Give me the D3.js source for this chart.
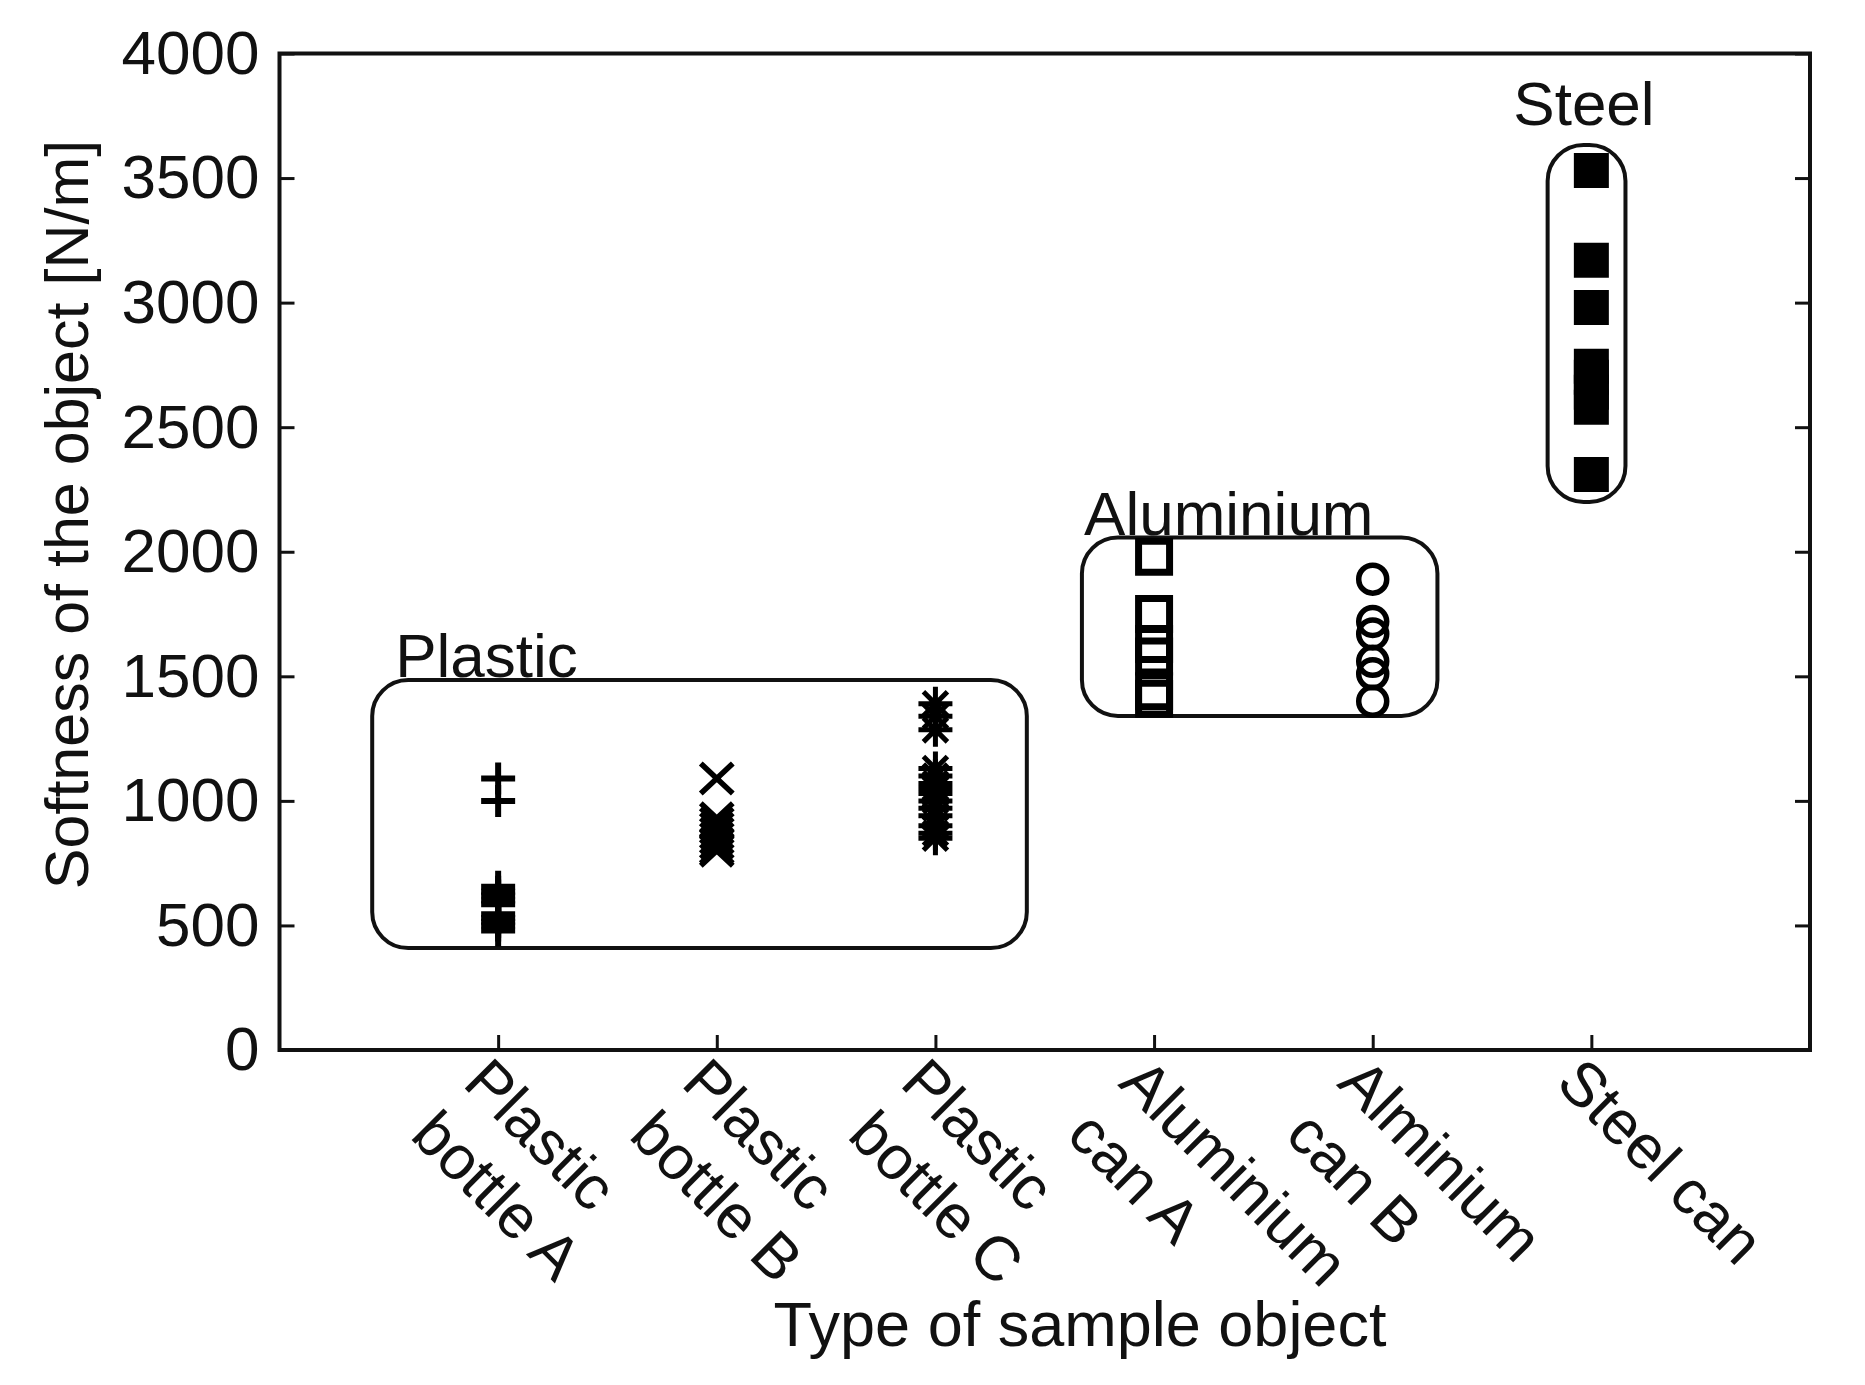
<!DOCTYPE html>
<html>
<head>
<meta charset="utf-8">
<script src="https://cdn.jsdelivr.net/npm/d3@7"></script>
<style>
  html, body { margin: 0; padding: 0; background: #fff; }
  svg { display: block; }
  text { font-family: "Liberation Sans", Arial, sans-serif; fill: #111; }
</style>
</head>
<body>
<svg id="chart" width="1865" height="1385"></svg>
<script>
// ---------------- data ----------------
const categories = ["Plastic\nbottle A", "Plastic\nbottle B", "Plastic\nbottle C",
                    "Aluminium\ncan A", "Alminium\ncan B", "Steel can"];
const yTicks = [0, 500, 1000, 1500, 2000, 2500, 3000, 3500, 4000];

const plasticBottleA = [1090, 1000, 655, 635, 620, 600, 585, 545, 530, 515, 500, 480];
const plasticBottleB = [1090, 930, 910, 890, 870, 850, 830, 810, 800];
const plasticBottleC = [1390, 1340, 1285, 1130, 1100, 1070, 1050, 1030, 1000, 970, 940, 900, 870, 850];
const aluminiumCanA  = [1980, 1750, 1630, 1580, 1440, 1410];
const aluminiumCanB  = [1890, 1720, 1670, 1560, 1510, 1400];
const steelCan       = [3530, 3170, 2980, 2745, 2700, 2640, 2580, 2310];

const seriesValues = [plasticBottleA, plasticBottleB, plasticBottleC, aluminiumCanA, aluminiumCanB, steelCan];
const seriesMarkers = ["plus", "times", "asterisk", "square", "circle", "filledSquare"];

// material groups: [x0, x1] in category units, [yLow, yHigh] in N/m, label anchor
const groupNames  = ["Plastic", "Aluminium", "Steel"];
const groupXRange = [[0.424, 3.418], [3.67, 5.296], [5.80, 6.156]];
const groupYRange = [[409, 1485], [1341, 2057], [2200, 3633]];
const groupLabelAt = [[0.529, 1497], [3.68, 2067], [5.643, 3713]];

const xLabel = "Type of sample object";
const yLabel = "Softness of the object [N/m]";

// ---------------- layout ----------------
const svg = d3.select("#chart");
const margin = {left: 279.5, right: 1865 - 1810, top: 53.5, bottom: 1385 - 1050};
const W = 1865, H = 1385;
const x = d3.scaleLinear().domain([0, 7]).range([margin.left, W - margin.right]);
const y = d3.scaleLinear().domain([0, 4000]).range([H - margin.bottom, margin.top]);

const g = svg.append("g");

// group boxes
groupNames.forEach((name, i) => {
  const x0 = x(groupXRange[i][0]), x1 = x(groupXRange[i][1]);
  const y0 = y(groupYRange[i][1]), y1 = y(groupYRange[i][0]);
  const r = Math.min(36, (x1 - x0) / 2);
  g.append("rect")
    .attr("x", x0).attr("y", y0)
    .attr("width", x1 - x0).attr("height", y1 - y0)
    .attr("rx", r).attr("ry", r)
    .attr("fill", "none").attr("stroke", "#111").attr("stroke-width", 4);
  g.append("text")
    .attr("x", x(groupLabelAt[i][0])).attr("y", y(groupLabelAt[i][1]))
    .attr("font-size", 62)
    .text(name);
});

// marker path generators
function markerPath(type) {
  switch (type) {
    case "plus": return "M0,-16V16M-17,0H17";
    case "times": return "M-16,-15L16,15M-16,15L16,-15";
    case "asterisk": return "M0,-17V17M-17,0H17M-12,-12L12,12M-12,12L12,-12";
    case "square": return "M-15.5,-15.5H15.5V15.5H-15.5Z";
    case "circle": return "M14,0A14,14 0 1,1 -14,0A14,14 0 1,1 14,0Z";
    case "filledSquare": return "M-17.5,-17.5H17.5V17.5H-17.5Z";
  }
}
const markerStroke = {plus: 6, times: 5.5, asterisk: 5, square: 7, circle: 5.5, filledSquare: 0};

seriesValues.forEach((vals, i) => {
  const type = seriesMarkers[i];
  g.append("g").selectAll("path")
    .data(vals)
    .join("path")
    .attr("transform", d => `translate(${x(i + 1)},${y(d)})`)
    .attr("d", markerPath(type))
    .attr("fill", type === "filledSquare" ? "#000" : "none")
    .attr("stroke", "#000")
    .attr("stroke-width", markerStroke[type])
    .attr("stroke-linecap", "butt");
});

// axes box
const axisColor = "#111";
g.append("rect")
  .attr("x", x(0)).attr("y", y(4000))
  .attr("width", x(7) - x(0)).attr("height", y(0) - y(4000))
  .attr("fill", "none").attr("stroke", axisColor).attr("stroke-width", 4);

// y axis (left, ticks inward)
const yAxis = d3.axisLeft(y).tickValues(yTicks).tickSize(-15).tickPadding(20).tickFormat(d3.format("d"));
const ya = g.append("g").attr("transform", `translate(${x(0)},0)`).call(yAxis);
ya.select(".domain").remove();
ya.selectAll(".tick line").attr("stroke", axisColor).attr("stroke-width", 3);
ya.selectAll(".tick text").attr("font-size", 62).attr("fill", "#111")
  .attr("font-family", "Liberation Sans, Arial, sans-serif").attr("dy", "0.32em");

// right ticks
const yr = g.append("g").attr("transform", `translate(${x(7)},0)`)
  .call(d3.axisRight(y).tickValues(yTicks).tickSize(-15).tickFormat(""));
yr.select(".domain").remove();
yr.selectAll(".tick line").attr("stroke", axisColor).attr("stroke-width", 3);

// x axis ticks (inward)
const xa = g.append("g").attr("transform", `translate(0,${y(0)})`)
  .call(d3.axisBottom(x).tickValues(d3.range(1, 7)).tickSize(-15).tickFormat(""));
xa.select(".domain").remove();
xa.selectAll(".tick line").attr("stroke", axisColor).attr("stroke-width", 3);

// rotated category labels
categories.forEach((c, i) => {
  const lines = c.split("\n");
  const t = g.append("text")
    .attr("transform", `translate(${x(i + 1) - 37},${y(0) + 35}) rotate(45)`)
    .attr("font-size", 62);
  lines.forEach((ln, k) => {
    t.append("tspan").attr("x", 0).attr("dy", k === 0 ? 0 : 74).text(ln);
  });
});

// axis titles
g.append("text")
  .attr("x", 1080).attr("y", 1346)
  .attr("text-anchor", "middle").attr("font-size", 63)
  .text(xLabel);

g.append("text")
  .attr("transform", `translate(88,${(143 + 886) / 2}) rotate(-90)`)
  .attr("text-anchor", "middle").attr("font-size", 61)
  .text(yLabel);
</script>
</body>
</html>
